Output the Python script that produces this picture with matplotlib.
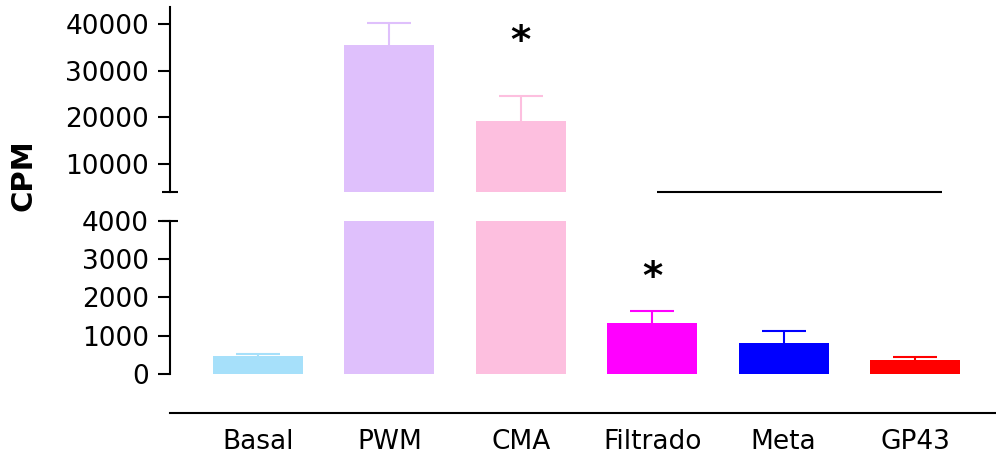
import matplotlib
matplotlib.use("Agg")
import matplotlib.pyplot as plt
import numpy as np

categories = ["Basal", "PWM", "CMA", "Filtrado", "Meta", "GP43"]
means = [470, 35540, 19250, 1323, 817, 357]
errors = [60, 4670, 5320, 328, 297, 79]
colors = ["#A6E0FA", "#DFC0FC", "#FDBFDF", "#FF00FF", "#0000FF", "#FF0000"]
top_ticks = [10000, 20000, 30000, 40000]
bottom_ticks = [0, 1000, 2000, 3000, 4000]
star_idx = [2, 3]
star_y = [38060, 2713]
bracket_x = [3.034, 5.208]

plt.rcParams['font.family'] = ['DejaVu Sans']

W, H = 996, 454
fig = plt.figure(figsize=(W / 100, H / 100), dpi=100)

left = 170 / W
right = 1.0
ax_top = fig.add_axes([left, 1 - 191.7 / H, right - left, (191.7 - 7) / H])
ax_bot = fig.add_axes([left, 1 - 374 / H, right - left, (374 - 220.7) / H])

x = np.arange(len(categories))
bw = 0.685
xlim = (-0.67, 5.616)

for ax in (ax_top, ax_bot):
    ax.bar(x, means, width=bw, color=colors, zorder=2)
    tops = np.array(means) + np.array(errors)
    ax.vlines(x, means, tops, colors=colors, lw=1.5, zorder=1)
    for xi, t, c in zip(x, tops, colors):
        ax.plot([xi], [t], marker='_', ms=31.6, mew=1.5, color=c, zorder=1)
    ax.set_xlim(*xlim)
    ax.spines['top'].set_visible(False)
    ax.spines['right'].set_visible(False)
    ax.spines['left'].set_linewidth(1.5)
    ax.tick_params(axis='y', length=8.6, width=1.5, pad=6.5, labelsize=19,
                   colors='black')
    ax.patch.set_alpha(0)

ax_top.set_ylim(4000, 43700)
ax_top.set_yticks(top_ticks)
ax_top.spines['bottom'].set_visible(False)
ax_top.set_xticks([])

ax_bot.set_ylim(0, 4000)
ax_bot.set_yticks(bottom_ticks)
ax_bot.spines['bottom'].set_position(('outward', 28.3))
ax_bot.spines['bottom'].set_linewidth(1.5)
ax_bot.set_xticks(x)
ax_bot.set_xticklabels(categories, fontsize=19)
ax_bot.tick_params(axis='x', length=0, pad=11)

# break caps on the left spine
ax_top.plot([0], [0], transform=ax_top.transAxes, marker='_', ms=11,
            mew=1.5, color='black', clip_on=False)
ax_bot.plot([0], [1], transform=ax_bot.transAxes, marker='_', ms=11,
            mew=1.5, color='black', clip_on=False)

# significance line
ax_top.plot(bracket_x, [4000, 4000], color='black', lw=1.5, clip_on=False,
            solid_capstyle='butt')

# stars
for idx, sy in zip(star_idx, star_y):
    ax = ax_top if sy > 4000 else ax_bot
    ax.annotate('*', xy=(x[idx], sy), xytext=(0, -0.5 * 28),
                textcoords='offset points', ha='center', va='baseline',
                fontsize=28, fontweight='bold', annotation_clip=False)

fig.text(23.3 / W, 1 - 175 / H, 'CPM', rotation=90, ha='center', va='center',
         fontsize=21, fontweight='bold')

fig.savefig('out.png', dpi=100)
